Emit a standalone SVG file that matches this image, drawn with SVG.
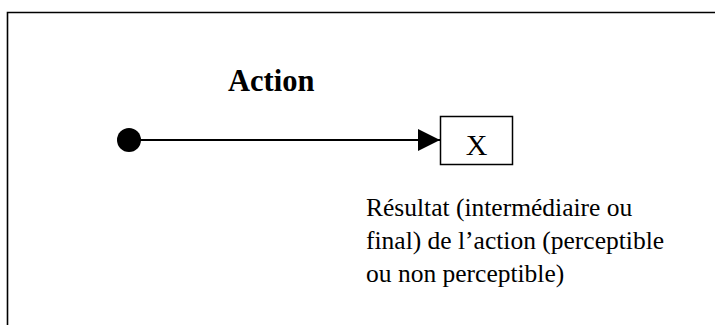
<svg xmlns="http://www.w3.org/2000/svg" width="715" height="325" viewBox="0 0 715 325">
  <style>
    .serif { font-family: "Liberation Serif", "Times New Roman", serif; fill: #000; }
    .conn { stroke: #000; stroke-width: 2; fill: none; }
  </style>
  <defs>
    <marker id="arrow" markerUnits="userSpaceOnUse" markerWidth="22" markerHeight="22" refX="22" refY="11" orient="auto">
      <path d="M0,0 L22,11 L0,22 Z" fill="#000"/>
    </marker>
  </defs>
  <rect x="0" y="0" width="715" height="325" fill="#fff"/>
  <path d="M7.5,325 V12.5 H715" fill="none" stroke="#000" stroke-width="1.6"/>
  <g id="start">
    <circle cx="129" cy="140" r="12" fill="#000"/>
  </g>
  <g id="connectors">
    <line class="conn" x1="129" y1="140" x2="440" y2="140" marker-end="url(#arrow)"/>
    <text class="serif" x="228" y="91" font-size="30.5" font-weight="bold">Action</text>
  </g>
  <g id="result">
    <rect x="440.5" y="116.5" width="72" height="48" fill="#fff" stroke="#000" stroke-width="1.5"/>
    <text class="serif" x="476.5" y="155" font-size="30" text-anchor="middle">X</text>
  </g>
  <g id="note">
    <text class="serif" font-size="25.5">
      <tspan x="366" y="216">Résultat (intermédiaire ou</tspan>
      <tspan x="366" y="249">final) de l’action (perceptible</tspan>
      <tspan x="366" y="282">ou non perceptible)</tspan>
    </text>
  </g>
</svg>
